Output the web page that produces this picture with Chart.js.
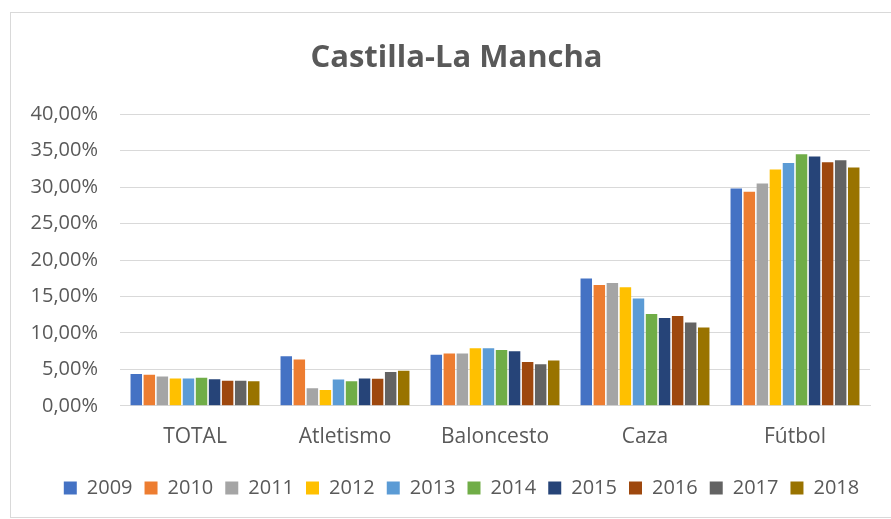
<!DOCTYPE html>
<html>
<head>
<meta charset="utf-8">
<script src="https://cdn.jsdelivr.net/npm/chart.js@4/dist/chart.umd.min.js"></script>
<style>
  html, body { margin: 0; padding: 0; background: #fff; }
  #wrap { position: absolute; left: 0; top: 0; width: 891px; height: 519px; }
</style>
</head>
<body>
<div id="wrap"><canvas id="c" width="891" height="519"></canvas></div>
<script>
const categories = ["TOTAL", "Atletismo", "Baloncesto", "Caza", "Fútbol"];
const years = ["2009", "2010", "2011", "2012", "2013", "2014", "2015", "2016", "2017", "2018"];
const colors = ["#4472C4", "#ED7D31", "#A5A5A5", "#FFC000", "#5B9BD5", "#70AD47", "#264478", "#9E480E", "#636363", "#997300"];
// values in percent, per year: [TOTAL, Atletismo, Baloncesto, Caza, Fútbol]
const v2009 = [4.35, 6.80, 6.99, 17.46, 29.8];
const v2010 = [4.26, 6.35, 7.18, 16.57, 29.35];
const v2011 = [4.03, 2.40, 7.18, 16.85, 30.5];
const v2012 = [3.75, 2.18, 7.88, 16.25, 32.4];
const v2013 = [3.75, 3.60, 7.88, 14.72, 33.3];
const v2014 = [3.85, 3.38, 7.64, 12.60, 34.5];
const v2015 = [3.65, 3.75, 7.50, 12.04, 34.2];
const v2016 = [3.43, 3.70, 6.01, 12.32, 33.4];
const v2017 = [3.43, 4.63, 5.69, 11.43, 33.7];
const v2018 = [3.38, 4.82, 6.20, 10.74, 32.7];
const seriesValues = [v2009, v2010, v2011, v2012, v2013, v2014, v2015, v2016, v2017, v2018];
const yTicks = [0, 5, 10, 15, 20, 25, 30, 35, 40];

const fontFam = "'Open Sans', 'Noto Sans', sans-serif";
const grey = "#595959";

const frame = {
  id: 'frame',
  beforeDraw(chart) {
    const ctx = chart.ctx;
    ctx.save();
    ctx.fillStyle = '#fff';
    ctx.fillRect(0, 0, chart.width, chart.height);
    ctx.strokeStyle = '#d9d9d9';
    ctx.lineWidth = 1;
    ctx.strokeRect(10.5, 12.5, 890, 505);
    ctx.restore();
  },
  afterLayout(chart) {
    // centre title and legend like the original (slightly right of canvas middle)
    if (chart.legend) {
      chart.legend.left += 13; chart.legend.right += 13;
      chart.legend.top -= 3; chart.legend.bottom -= 3;
    }
    if (chart.titleBlock) { chart.titleBlock.left += 8; chart.titleBlock.right += 8; }
  }
};

new Chart(document.getElementById('c'), {
  type: 'bar',
  data: {
    labels: categories,
    datasets: years.map((y, i) => ({
      label: y,
      data: seriesValues[i],
      backgroundColor: colors[i],
      borderWidth: 0,
      categoryPercentage: 0.87,
      barPercentage: 0.88
    }))
  },
  plugins: [frame],
  options: {
    responsive: false,
    animation: false,
    devicePixelRatio: 1,
    layout: { padding: { left: 27, right: 21, top: 40, bottom: 8 } },
    plugins: {
      title: {
        display: true,
        text: 'Castilla-La Mancha',
        color: grey,
        font: { family: fontFam, size: 31, weight: 'bold' },
        padding: { top: 0, bottom: 37 }
      },
      legend: {
        position: 'bottom',
        labels: {
          color: grey,
          font: { family: fontFam, size: 20 },
          boxWidth: 13,
          boxHeight: 13,
          padding: 12
        }
      },
      tooltip: { enabled: false }
    },
    scales: {
      x: {
        grid: { display: false, drawTicks: false },
        border: { color: '#d9d9d9', width: 1 },
        ticks: { color: grey, font: { family: fontFam, size: 21 }, padding: 19 }
      },
      y: {
        min: 0,
        max: 40,
        afterBuildTicks(scale) { scale.ticks = yTicks.map(v => ({ value: v })); },
        afterFit(scale) { scale.width = 93; },
        grid: { color: '#d9d9d9', lineWidth: 1, drawTicks: false },
        border: { display: false },
        ticks: {
          color: grey,
          font: { family: fontFam, size: 20 },
          padding: 22,
          callback: v => v.toFixed(2).replace('.', ',') + '%'
        }
      }
    }
  }
});
</script>
</body>
</html>
